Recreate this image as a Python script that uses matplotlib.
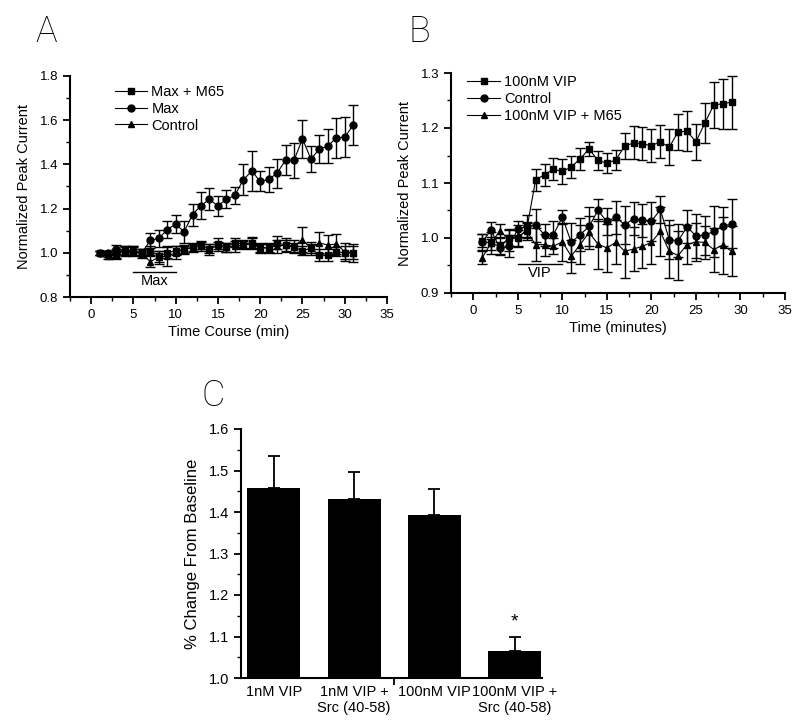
import numpy as np
import matplotlib.pyplot as plt
from matplotlib.ticker import MultipleLocator

plt.rcParams['font.family'] = ['Liberation Sans', 'DejaVu Sans']

# panel A data: time (min) and normalized peak current
time_a = [1, 2, 3, 4, 5, 6, 7, 8, 9, 10, 11, 12, 13, 14, 15, 16,
          17, 18, 19, 20, 21, 22, 23, 24, 25, 26, 27, 28, 29, 30, 31]
max_m65 = [1.0, 0.995, 0.99, 1.01, 1.01, 1.0, 1.01, 0.985, 1.0, 1.01, 1.015, 1.025, 1.035, 1.015, 1.04, 1.025,
           1.045, 1.04, 1.045, 1.025, 1.02, 1.045, 1.035, 1.025, 1.01, 1.02, 0.99, 0.99, 1.005, 1.0, 1.0]
max_m65_err = [0.01, 0.015, 0.02, 0.02, 0.02, 0.015, 0.02, 0.025, 0.025, 0.02, 0.015, 0.015, 0.02, 0.025, 0.025, 0.02,
               0.02, 0.02, 0.025, 0.02, 0.02, 0.03, 0.025, 0.02, 0.02, 0.02, 0.025, 0.025, 0.02, 0.03, 0.03]
max_only = [1.0, 1.0, 1.015, 1.01, 1.005, 1.0, 1.056, 1.065, 1.105, 1.13, 1.095, 1.173, 1.214, 1.242, 1.212, 1.242,
            1.26, 1.33, 1.37, 1.323, 1.332, 1.36, 1.42, 1.418, 1.516, 1.424, 1.47, 1.483, 1.52, 1.523, 1.578]
max_only_err = [0.01, 0.01, 0.02, 0.02, 0.02, 0.015, 0.035, 0.04, 0.04, 0.04, 0.05, 0.05, 0.06, 0.05, 0.045, 0.04,
                0.04, 0.07, 0.09, 0.045, 0.055, 0.065, 0.07, 0.08, 0.085, 0.06, 0.065, 0.075, 0.09, 0.09, 0.09]
control_a = [1.0, 0.985, 0.995, 1.005, 1.01, 0.995, 0.96, 0.98, 0.985, 1.0, 1.015, 1.025, 1.03, 1.02, 1.03, 1.025,
             1.03, 1.035, 1.04, 1.02, 1.025, 1.03, 1.035, 1.03, 1.06, 1.02, 1.045, 1.035, 1.04, 1.005, 1.0]
control_a_err = [0.01, 0.015, 0.02, 0.02, 0.02, 0.02, 0.024, 0.03, 0.045, 0.03, 0.02, 0.02, 0.02, 0.02, 0.02, 0.02,
                 0.025, 0.02, 0.025, 0.02, 0.02, 0.03, 0.03, 0.03, 0.055, 0.03, 0.047, 0.045, 0.047, 0.04, 0.04]

# panel B data
time_b = [1, 2, 3, 4, 5, 6, 7, 8, 9, 10, 11, 12, 13, 14, 15,
          16, 17, 18, 19, 20, 21, 22, 23, 24, 25, 26, 27, 28, 29]
vip100 = [0.995, 0.99, 0.985, 1.0, 1.0, 1.015, 1.106, 1.115, 1.125, 1.121, 1.129, 1.144, 1.162, 1.141, 1.136,
          1.142, 1.167, 1.173, 1.171, 1.168, 1.175, 1.165, 1.193, 1.194, 1.175, 1.209, 1.242, 1.244, 1.247]
vip100_err = [0.012, 0.012, 0.015, 0.015, 0.015, 0.015, 0.02, 0.02, 0.02, 0.022, 0.02, 0.02, 0.012, 0.018, 0.018,
              0.018, 0.024, 0.03, 0.03, 0.03, 0.03, 0.033, 0.033, 0.036, 0.033, 0.036, 0.042, 0.045, 0.048]
control_b = [0.993, 1.014, 0.981, 0.985, 1.016, 1.021, 1.023, 1.006, 1.006, 1.038, 0.992, 1.006, 1.021, 1.05, 1.03,
             1.038, 1.024, 1.035, 1.032, 1.03, 1.052, 0.997, 0.995, 1.02, 1.004, 1.005, 1.012, 1.021, 1.026]
control_b_err = [0.015, 0.015, 0.012, 0.02, 0.015, 0.02, 0.03, 0.02, 0.025, 0.012, 0.035, 0.03, 0.035, 0.02, 0.025,
                 0.03, 0.035, 0.03, 0.03, 0.035, 0.024, 0.035, 0.03, 0.03, 0.04, 0.035, 0.047, 0.036, 0.045]
vip_m65 = [0.964, 0.991, 1.013, 0.997, 1.003, 1.012, 0.988, 0.988, 0.985, 0.993, 0.967, 0.988, 1.01, 0.989, 0.982,
           0.992, 0.976, 0.98, 0.985, 0.992, 1.012, 0.976, 0.968, 0.988, 0.993, 0.992, 0.979, 0.987, 0.976]
vip_m65_err = [0.012, 0.02, 0.012, 0.02, 0.02, 0.015, 0.03, 0.02, 0.015, 0.035, 0.03, 0.035, 0.03, 0.045, 0.044,
               0.04, 0.048, 0.04, 0.04, 0.04, 0.044, 0.048, 0.044, 0.035, 0.035, 0.03, 0.04, 0.052, 0.045]

# panel C data
groups_c = ['1nM VIP', '1nM VIP +\nSrc (40-58)', '100nM VIP', '100nM VIP +\nSrc (40-58)']
change_c = [1.459, 1.432, 1.392, 1.064]
change_err = [0.075, 0.064, 0.064, 0.036]

fig = plt.figure(figsize=(8, 7.27), dpi=100)
axA = fig.add_axes([70/800, 1-297/727, 317/800, 221/727])
axB = fig.add_axes([451/800, 1-293/727, 334/800, 220/727])
axC = fig.add_axes([241/800, 1-678/727, 301/800, 249/727])


def style_ax(ax, size):
    for s in ['top', 'right']:
        ax.spines[s].set_visible(False)
    for s in ['left', 'bottom']:
        ax.spines[s].set_linewidth(1.5)
    ax.tick_params(which='major', direction='out', length=5, width=1.3, labelsize=size)
    ax.tick_params(which='minor', direction='out', length=3, width=1.0)


def series(ax, t, y, err, marker, label):
    ax.errorbar(t, y, yerr=err, fmt='none', ecolor='black', elinewidth=1.0,
                capsize=3.5, capthick=1.0, clip_on=False)
    ax.plot(t, y, color='black', lw=0.8, marker=marker, ms=5, label=label, clip_on=False)


# panel A
series(axA, time_a, max_m65, max_m65_err, 's', 'Max + M65')
series(axA, time_a, max_only, max_only_err, 'o', 'Max')
series(axA, time_a, control_a, control_a_err, '^', 'Control')
axA.set_xlim(-2.5, 35)
axA.set_ylim(0.8, 1.8)
axA.xaxis.set_major_locator(MultipleLocator(5))
axA.xaxis.set_minor_locator(MultipleLocator(2.5))
axA.yaxis.set_major_locator(MultipleLocator(0.2))
axA.yaxis.set_minor_locator(MultipleLocator(0.1))
axA.yaxis.set_major_formatter(plt.FormatStrFormatter('%.1f'))
style_ax(axA, 9.5)
axA.set_xlabel('Time Course (min)', fontsize=10.5, labelpad=3)
axA.set_ylabel('Normalized Peak Current', fontsize=10.5, labelpad=6)
axA.plot([5, 10], [0.913, 0.913], color='black', lw=1.0)
axA.text(7.5, 0.905, 'Max', ha='center', va='top', fontsize=10.5)
axA.legend(loc='upper left', bbox_to_anchor=(0.1, 1.02), frameon=False, fontsize=10.5,
           handlelength=2.2, handletextpad=0.3, labelspacing=0.2)

# panel B
series(axB, time_b, vip100, vip100_err, 's', '100nM VIP')
series(axB, time_b, control_b, control_b_err, 'o', 'Control')
series(axB, time_b, vip_m65, vip_m65_err, '^', '100nM VIP + M65')
axB.set_xlim(-2.5, 35)
axB.set_ylim(0.9, 1.3)
axB.xaxis.set_major_locator(MultipleLocator(5))
axB.xaxis.set_minor_locator(MultipleLocator(2.5))
axB.yaxis.set_major_locator(MultipleLocator(0.1))
axB.yaxis.set_minor_locator(MultipleLocator(0.05))
axB.yaxis.set_major_formatter(plt.FormatStrFormatter('%.1f'))
style_ax(axB, 9.5)
axB.set_xlabel('Time (minutes)', fontsize=10.5, labelpad=3)
axB.set_ylabel('Normalized Peak Current', fontsize=10.5, labelpad=6)
axB.plot([5, 10], [0.953, 0.953], color='black', lw=1.0)
axB.text(7.5, 0.949, 'VIP', ha='center', va='top', fontsize=10.5)
axB.legend(loc='upper left', bbox_to_anchor=(0.01, 1.05), frameon=False, fontsize=10.5,
           handlelength=2.2, handletextpad=0.3, labelspacing=0.2)

# panel C
pos = np.arange(len(groups_c))
axC.bar(pos, np.array(change_c) - 1.0, bottom=1.0, width=0.66, color='black')
axC.errorbar(pos, change_c, yerr=[np.zeros(4), change_err], fmt='none', ecolor='black',
             elinewidth=1.3, capsize=4, capthick=1.3)
axC.text(pos[3], 1.115, '*', ha='center', va='bottom', fontsize=14)
axC.set_xlim(-0.41, 3.34)
axC.set_ylim(1.0, 1.6)
axC.set_xticks(pos)
axC.set_xticklabels(groups_c, fontsize=10.5, linespacing=1.15)
axC.set_xticks([1.5], minor=True)
axC.yaxis.set_major_locator(MultipleLocator(0.1))
axC.yaxis.set_minor_locator(MultipleLocator(0.05))
axC.yaxis.set_major_formatter(plt.FormatStrFormatter('%.1f'))
style_ax(axC, 10.5)
axC.tick_params(axis='x', which='major', length=0, pad=5, labelsize=10.5)
axC.tick_params(axis='x', which='minor', length=5, width=1.3)
axC.set_ylabel('% Change From Baseline', fontsize=12, labelpad=6)

# panel letters
for lbl, x, y in [('A', 35, 14), ('B', 408, 14), ('C', 202, 378)]:
    fig.text(x/800, 1-y/727, lbl, fontsize=26, va='top', ha='left',
             family=['Roboto', 'DejaVu Sans'], fontweight='light')

fig.savefig('out.png', dpi=100)
